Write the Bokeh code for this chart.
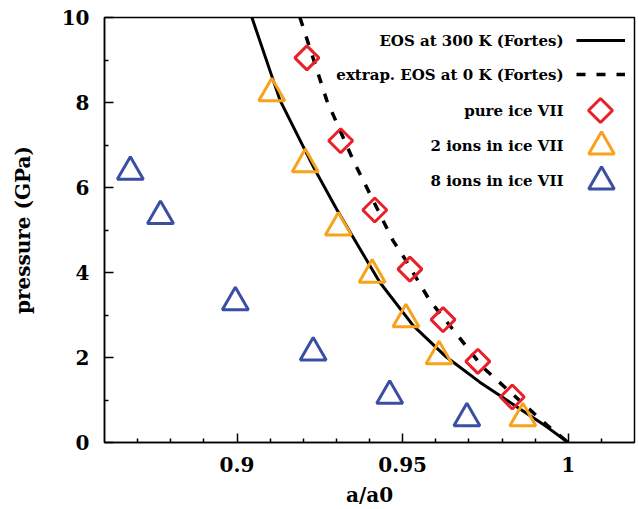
import math
from bokeh.plotting import figure
from bokeh.models import FixedTicker, Legend, LegendItem, Label, PolyAnnotation
from bokeh.embed import file_html
from bokeh.resources import INLINE

# ---------------- data ----------------
eos300_x = [0.9045, 0.9130, 0.9231, 0.9300, 0.9371, 0.9431, 0.9532, 0.9632, 0.9733, 0.9833, 0.9933, 1.0]
eos300_y = [10.0, 8.05, 6.48, 5.50, 4.56, 3.77, 2.75, 2.01, 1.42, 0.90, 0.38, 0.0]

eos0_x = [0.9190, 0.9271, 0.9351, 0.9471, 0.9507, 0.9582, 0.9662, 0.9742, 0.9853, 0.9943, 1.0]
eos0_y = [10.0, 8.05, 6.64, 4.75, 4.32, 3.34, 2.56, 1.77, 0.99, 0.36, 0.0]

pure_x = [0.9211, 0.9313, 0.9416, 0.9522, 0.9622, 0.9727, 0.9831]
pure_y = [9.05, 7.10, 5.47, 4.08, 2.89, 1.91, 1.07]

ions2_x = [0.9105, 0.9206, 0.9306, 0.9408, 0.9510, 0.9610, 0.9863]
ions2_y = [8.22, 6.55, 5.06, 3.95, 2.90, 2.03, 0.57]

ions8_x = [0.8678, 0.8769, 0.8995, 0.9230, 0.9461, 0.9694]
ions8_y = [6.37, 5.33, 3.30, 2.12, 1.10, 0.57]

x_ticks = [0.9, 0.95, 1.0]
x_tick_labels = ["0.9", "0.95", "1"]
x_minor_ticks = [0.87, 0.88, 0.89, 0.91, 0.92, 0.93, 0.94, 0.96, 0.97, 0.98, 0.99, 1.01]
y_ticks = [0, 2, 4, 6, 8, 10]
y_minor_ticks = [1, 3, 5, 7, 9]

legend_labels = ["EOS at 300 K (Fortes)", "extrap. EOS at 0 K (Fortes)",
                 "pure ice VII", "2 ions in ice VII", "8 ions in ice VII"]

RED = "#e8202a"
ORANGE = "#f8a21c"
BLUE = "#3a4ea3"
FONT = "DejaVu Serif"

# ---------------- figure ----------------
p = figure(width=638, height=509, x_range=(0.86, 1.02), y_range=(0, 10),
           output_backend="svg", toolbar_location=None,
           min_border_left=104, min_border_top=17, min_border_right=4, min_border_bottom=67)
p.background_fill_color = "white"
p.border_fill_color = "white"
p.grid.visible = False
p.outline_line_color = "black"
p.outline_line_width = 1.5
p.outline_line_alpha = 1.0

p.xaxis.ticker = FixedTicker(ticks=x_ticks, minor_ticks=x_minor_ticks)
p.xaxis.major_label_overrides = {t: l for t, l in zip(x_ticks, x_tick_labels)}
p.yaxis.ticker = FixedTicker(ticks=y_ticks, minor_ticks=y_minor_ticks)

for ax in (p.xaxis[0], p.yaxis[0]):
    ax.major_tick_in = 9
    ax.major_tick_out = 0
    ax.minor_tick_in = 4
    ax.minor_tick_out = 0
    ax.axis_line_width = 1.5
    ax.major_tick_line_width = 1.5
    ax.minor_tick_line_width = 1.5
    ax.axis_line_color = "black"
    ax.major_tick_line_color = "black"
    ax.minor_tick_line_color = "black"
    ax.major_label_text_font = FONT
    ax.major_label_text_font_style = "bold"
    ax.major_label_text_font_size = "20px"
    ax.major_label_text_color = "black"
    ax.axis_label_text_font = FONT
    ax.axis_label_text_font_style = "bold"
    ax.axis_label_text_font_size = "20px"
    ax.axis_label_text_color = "black"

p.xaxis.axis_label = "a/a0"
p.yaxis.axis_label = "pressure (GPa)"
p.xaxis.major_label_standoff = 14
p.yaxis.major_label_standoff = 15
p.xaxis.axis_label_standoff = 8
p.yaxis.axis_label_standoff = 24

# ---------------- marks ----------------
r_eos300 = p.line(eos300_x, eos300_y, line_color="black", line_width=3)
r_eos0 = p.line(eos0_x, eos0_y, line_color="black", line_width=3.5, line_dash="9 11")
r_pure = p.scatter(pure_x, pure_y, marker="square", angle=math.pi / 4, size=17,
                   fill_color=None, line_color=RED, line_width=3)
r_2 = p.scatter(ions2_x, ions2_y, marker="triangle", size=26,
                fill_color=None, line_color=ORANGE, line_width=3)
r_8 = p.scatter(ions8_x, ions8_y, marker="triangle", size=26,
                fill_color=None, line_color=BLUE, line_width=3)

# ---------------- legend: samples (glyphs) + right-aligned texts ----------------
def glyph_legend(renderers, loc, gw, gh, spacing):
    lg = Legend(items=[LegendItem(label="", renderers=[r]) for r in renderers],
                location=loc, glyph_width=gw, glyph_height=gh, spacing=spacing,
                label_width=0, label_standoff=0, label_height=0, padding=0, margin=0,
                border_line_color=None, background_fill_alpha=0)
    p.add_layout(lg)

glyph_legend([r_eos300, r_eos0], (472, 354), 49, 28, 6)
glyph_legend([r_2], (465, 264), 64, 64, 0)
glyph_legend([r_8], (465, 229), 64, 64, 0)

# legend key for the rotated-square (diamond) series (screen units, relative to frame)
KEY_CX, KEY_CY, KEY_R = 496, 332, 12
p.add_layout(PolyAnnotation(xs=[KEY_CX, KEY_CX + KEY_R, KEY_CX, KEY_CX - KEY_R],
                            ys=[KEY_CY + KEY_R, KEY_CY, KEY_CY - KEY_R, KEY_CY],
                            xs_units="screen", ys_units="screen",
                            fill_alpha=0, line_color=RED, line_width=3, line_alpha=1))

text_y = [402, 368, 332, 297, 262]
for t, ty in zip(legend_labels, text_y):
    p.add_layout(Label(x=459, y=ty, x_units="screen", y_units="screen", text=t,
                       text_align="right", text_baseline="middle",
                       text_font=FONT, text_font_style="bold",
                       text_font_size="15px", text_color="black"))

open("out.html", "w").write(file_html(p, INLINE))
